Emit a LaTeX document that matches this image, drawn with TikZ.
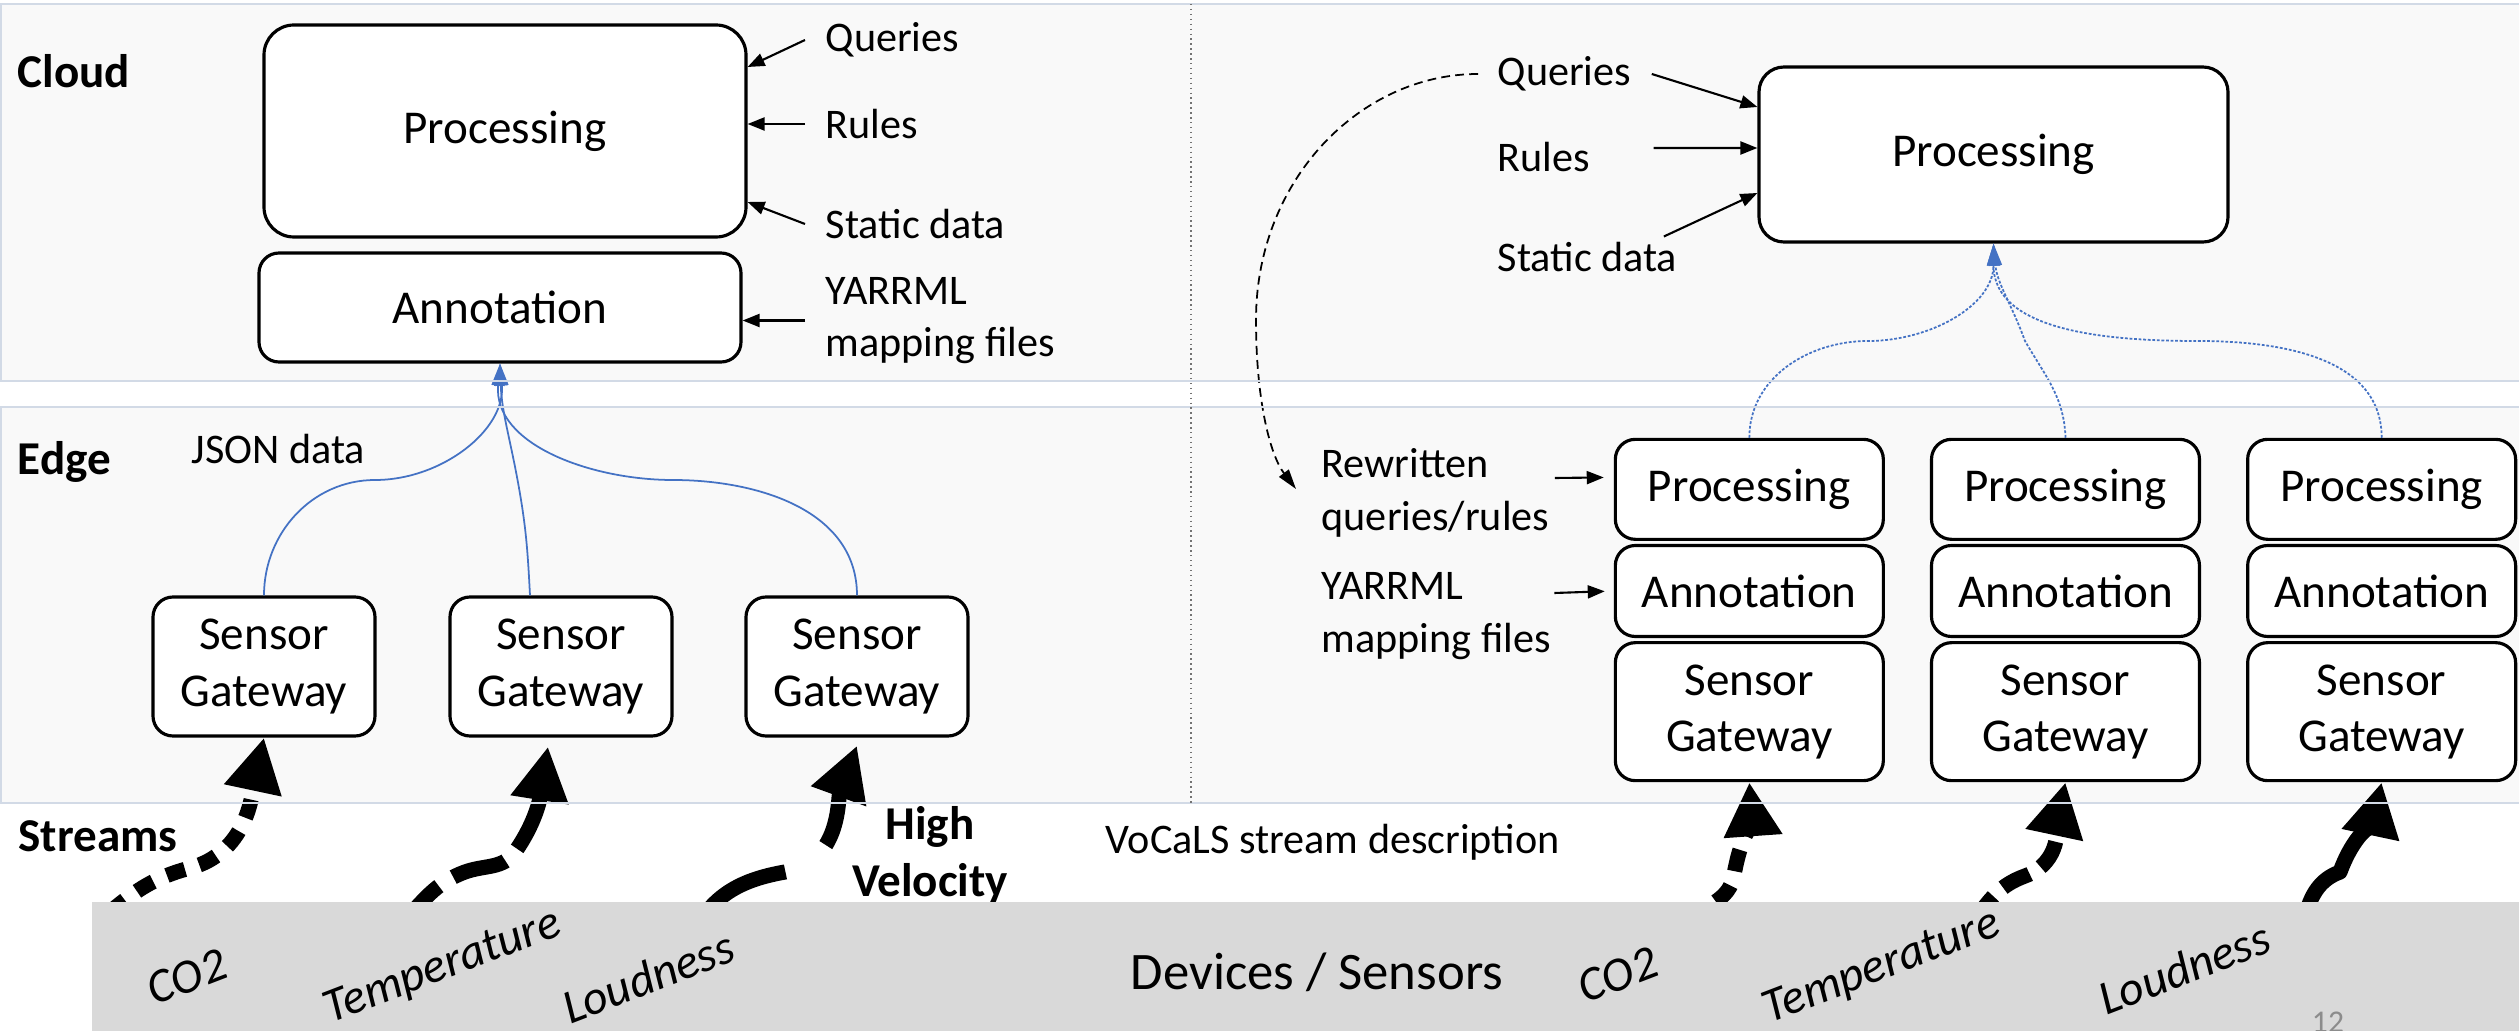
\documentclass[tikz,border=0pt]{standalone}
\usepackage{fontspec}
\setmainfont{Carlito}
\usetikzlibrary{arrows.meta,positioning}
\definecolor{panelfill}{HTML}{F9F9F9}
\definecolor{panelrule}{HTML}{D2DAE6}
\definecolor{devicegray}{HTML}{D9D9D9}
\definecolor{linkblue}{HTML}{4472C4}
\definecolor{pagegray}{HTML}{8C8C8C}

\begin{document}
\begin{tikzpicture}[
    box/.style={draw, line width=0.9pt, fill=white, rounded corners=0.2cm, align=center, inner sep=2pt, font=\fontsize{13.4}{16}\selectfont},
    cell/.style={box, minimum width=2.68cm},
    lbl/.style={anchor=west, align=left, inner sep=0pt, font=\fontsize{12}{15}\selectfont},
    tier/.style={anchor=west, inner sep=0pt, font=\fontsize{13.4}{16}\selectfont\bfseries},
    sensor/.style={rotate=21, inner sep=0pt, font=\fontsize{13.7}{16}\selectfont\itshape},
    feed/.style={line width=0.6pt, -{Triangle[length=0.17cm,width=0.13cm]}},
    link/.style={linkblue, line width=0.5pt, -{Triangle[length=0.22cm,width=0.13cm]}},
    stream/.style={line width=4.3pt, line join=round, -{Triangle[length=0.54cm,width=0.55cm]}}
  ]
  \useasboundingbox (0,0) rectangle (25.19,-10.31);
  \fill[panelfill] (0.01,-0.04) rectangle (25.4,-3.81);
  \fill[panelfill] (0.01,-4.07) rectangle (25.4,-8.03);

  \node[tier] (cloud) at (0.17,-0.715) {Cloud};
  \node[tier] (edge) at (0.17,-4.62) {Edge};
  \node[tier] (streams) at (0.18,-8.36) {Streams};

  \node[box, rounded corners=0.3cm, minimum width=4.82cm, minimum height=2.12cm] (procL) at (5.05,-1.31) {Processing};
  \node[box, minimum width=4.82cm, minimum height=1.09cm] (annL) at (5.00,-3.075) {Annotation};
  \node[box, minimum width=2.22cm, minimum height=1.39cm] (sgA) at (2.64,-6.665) {Sensor\\Gateway};
  \node[box, minimum width=2.22cm, minimum height=1.39cm] (sgB) at (5.61,-6.665) {Sensor\\Gateway};
  \node[box, minimum width=2.22cm, minimum height=1.39cm] (sgC) at (8.57,-6.665) {Sensor\\Gateway};

  \node[lbl] (qryL) at (8.25,-0.40) {Queries};
  \node[lbl] (rulL) at (8.25,-1.24) {Rules};
  \node[lbl] (statL) at (8.25,-2.24) {Static data};
  \node[lbl] (yarL) at (8.25,-3.205) {YARRML\\mapping files};
  \node[lbl] (json) at (1.91,-4.49) {JSON data};

  \node[box, rounded corners=0.25cm, minimum width=4.69cm, minimum height=1.75cm] (procR) at (19.935,-1.545) {Processing};
  \node[lbl] (qryR) at (14.97,-0.74) {Queries};
  \node[lbl] (rulR) at (14.97,-1.57) {Rules};
  \node[lbl] (statR) at (14.97,-2.57) {Static data};
  \node[lbl] (rwR) at (13.21,-4.93) {Rewritten\\queries/rules};
  \node[lbl] (yarR) at (13.21,-6.16) {YARRML\\mapping files};

  \matrix[column sep=0.45cm, row sep=0.03cm] at (20.655,-6.10)
  {
    \node[cell, minimum height=1.0cm] (p1) {Processing}; & \node[cell, minimum height=1.0cm] (p2) {Processing}; & \node[cell, minimum height=1.0cm] (p3) {Processing}; \\
    \node[cell, minimum height=0.91cm] (a1) {Annotation}; & \node[cell, minimum height=0.91cm] (a2) {Annotation}; & \node[cell, minimum height=0.91cm] (a3) {Annotation}; \\
    \node[cell, minimum height=1.38cm] (g1) {Sensor\\Gateway}; & \node[cell, minimum height=1.38cm] (g2) {Sensor\\Gateway}; & \node[cell, minimum height=1.38cm] (g3) {Sensor\\Gateway}; \\
  };

  \draw[link] (sgA.north) to[out=90,in=180] (3.75,-4.80) to[out=0,in=-85] (annL.south);
  \draw[link] ([xshift=-0.31cm]sgB.north) to[out=93,in=-80] (5.19,-4.88) to[out=100,in=-88] (annL.south);
  \draw[link] (sgC.north) to[out=90,in=0] (6.73,-4.80) to[out=180,in=-95] (annL.south);

  \draw[link, dash pattern=on 0.8pt off 0.5pt] (p1.north) to[out=90,in=180] (18.68,-3.41) to[out=0,in=-90] (procR.south);
  \draw[link, dash pattern=on 0.8pt off 0.5pt] (p2.north) to[out=92,in=-60] (20.25,-3.41) to[out=110,in=-85] (procR.south);
  \draw[link, dash pattern=on 0.8pt off 0.5pt] (p3.north) to[out=90,in=0] (21.98,-3.41) to[out=180,in=-90] (procR.south);

  \draw[feed] ([xshift=-0.2cm]qryL.west) -- ([yshift=0.64cm]procL.east);
  \draw[feed] ([xshift=-0.2cm]rulL.west) -- (rulL.west -| procL.east);
  \draw[feed] ([xshift=-0.2cm]statL.west) -- ([yshift=-0.71cm]procL.east);
  \draw[feed] ([xshift=-0.2cm]yarL.west) -- (yarL.west -| annL.east);

  \draw[feed] ([xshift=0.2cm]qryR.east) -- ([yshift=0.475cm]procR.west);
  \draw[feed] ([xshift=0.63cm,yshift=0.09cm]rulR.east) -- ([yshift=0.065cm]procR.west);
  \draw[feed] ([xshift=-0.14cm,yshift=0.05cm]statR.north east) -- ([yshift=-0.385cm]procR.west);
  \draw[feed, shorten >=0.1cm] ([xshift=0.05cm,yshift=0.15cm]rwR.east) -- ([yshift=0.12cm]p1.west);
  \draw[feed, shorten >=0.09cm] ([xshift=0.03cm,yshift=0.23cm]yarR.east) -- (a1.west);

  \draw[line width=0.5pt, dash pattern=on 2.5pt off 1.5pt, -{Triangle[length=0.2cm,width=0.12cm]}] ([xshift=-0.19cm]qryR.west) .. controls (13.6,-0.74) and (12.56,-1.8) .. (12.56,-3.2) .. controls (12.56,-4.0) and (12.7,-4.55) .. ([xshift=-0.25cm,yshift=0.04cm]rwR.west);

  \draw[stream, dash pattern=on 0.19cm off 0.15cm] (1.10,-9.12) to[out=40,in=195] (1.90,-8.68) to[out=15,in=258] (sgA.south);
  \draw[stream, dash pattern=on 0.55cm off 0.17cm] (4.0,-9.25) to[out=45,in=200] (4.65,-8.72) to[out=20,in=235] (5.15,-8.52) to[out=55,in=261] ([xshift=-0.13cm,yshift=-0.09cm]sgB.south);
  \draw[stream, dash pattern=on 1.12cm off 0.5cm on 5cm off 0.01cm] (6.95,-9.30) to[out=62,in=190] (7.85,-8.72) to[out=10,in=250] ([yshift=-0.08cm]sgC.south);
  \draw[stream, dash pattern=on 0.22cm off 0.15cm] (16.85,-9.22) to[out=40,in=-100] (17.34,-8.75) to[out=80,in=-86] (g1.south);
  \draw[stream, dash pattern=on 0.3cm off 0.13cm] (19.75,-9.2) to[out=55,in=200] (20.25,-8.76) to[out=20,in=258] (g2.south);
  \draw[stream] (23.02,-9.3) to[out=78,in=200] (23.40,-8.72) to[out=70,in=258] (g3.south);

  \draw[panelrule, line width=0.7pt] (0.01,-0.04) rectangle (25.4,-3.81);
  \draw[panelrule, line width=0.7pt] (0.01,-4.07) rectangle (25.4,-8.03);
  \draw[black!55, densely dotted, line width=0.4pt] (11.91,-0.04) -- (11.91,-8.03);

  \node[font=\fontsize{13.4}{16.2}\selectfont\bfseries, align=center, inner sep=0pt] (velocity) at (9.30,-8.55) {High\\Velocity};
  \node[lbl] (vocals) at (11.05,-8.42) {VoCaLS stream description};
  \fill[devicegray] (0.92,-9.02) rectangle (25.4,-10.5);
  \node[font=\fontsize{15}{18}\selectfont] (devices) at (13.17,-9.72) {Devices / Sensors};
  \node[sensor] (co2L) at (1.87,-9.77) {CO2};
  \node[sensor] (tempL) at (4.43,-9.68) {Temperature};
  \node[sensor] (loudL) at (6.48,-9.77) {Loudness};
  \node[sensor] (co2R) at (16.18,-9.75) {CO2};
  \node[sensor] (tempR) at (18.82,-9.68) {Temperature};
  \node[sensor] (loudR) at (21.84,-9.68) {Loudness};
  \node[font=\fontsize{9}{11}\selectfont, text=pagegray, inner sep=0pt] (page) at (23.28,-10.22) {12};
\end{tikzpicture}
\end{document}
